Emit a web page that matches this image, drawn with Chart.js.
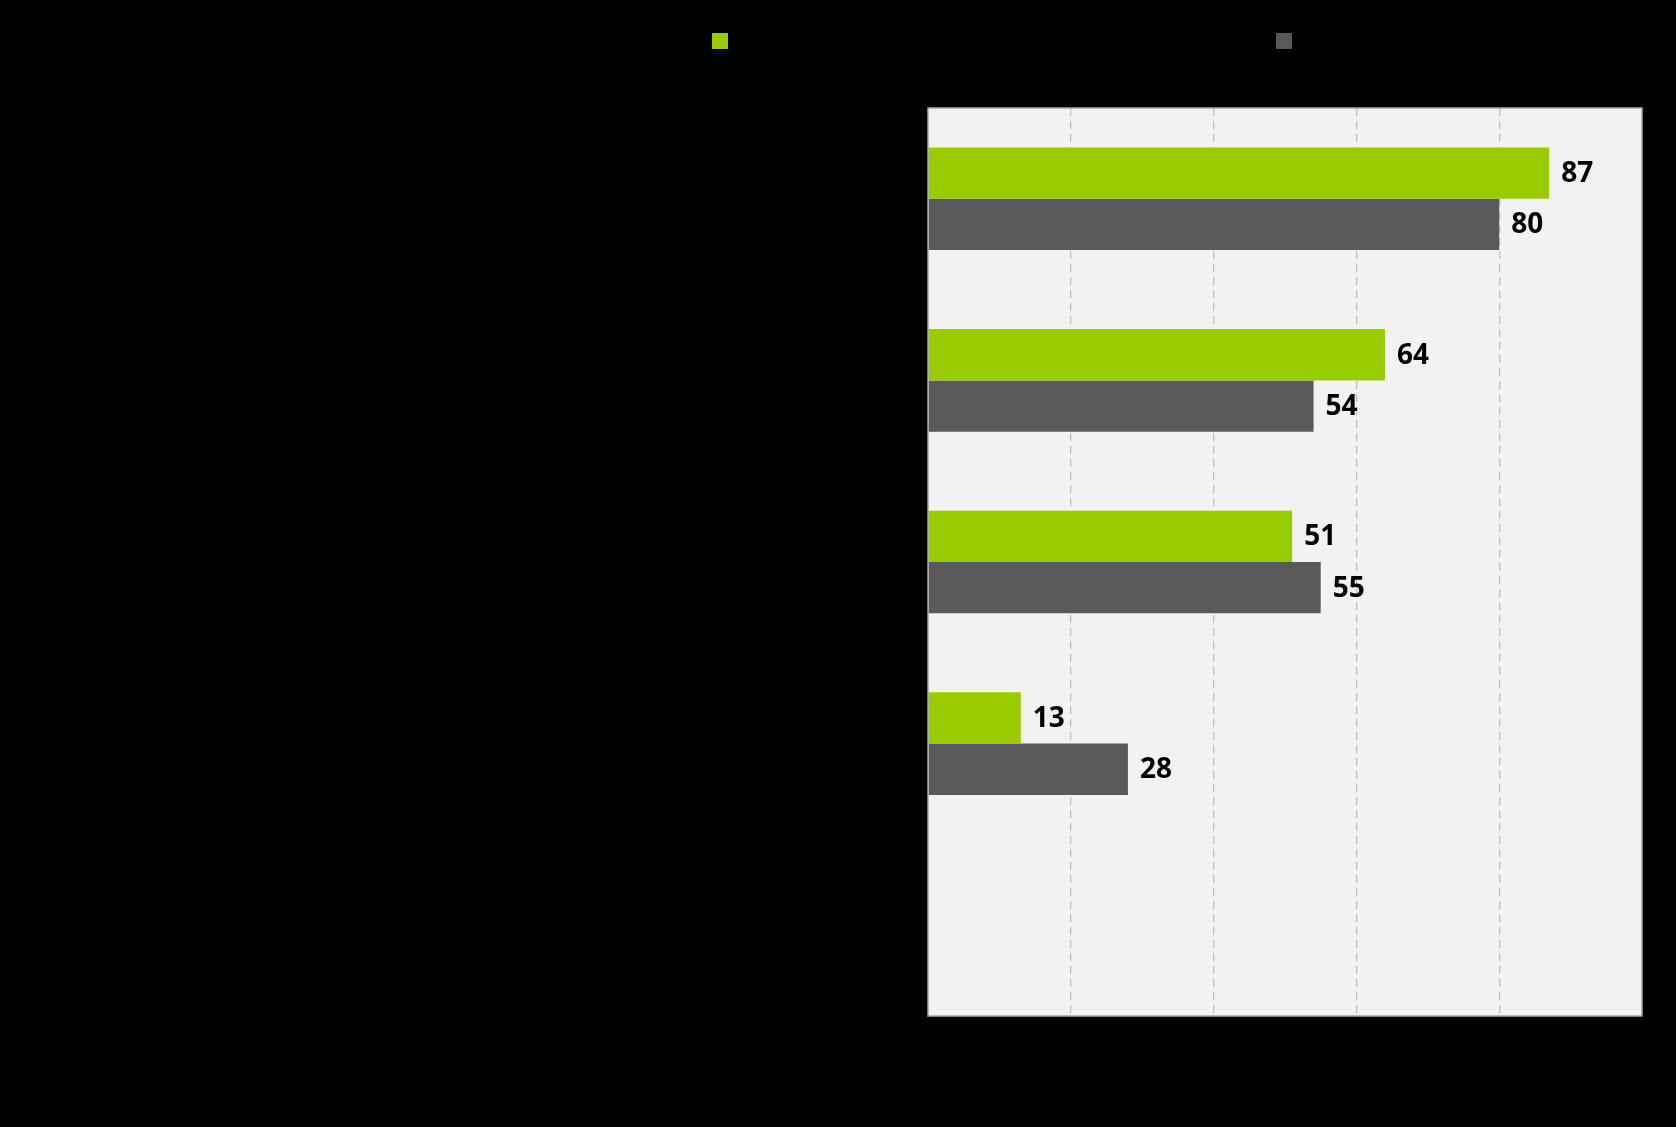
<!DOCTYPE html>
<html>
<head>
<meta charset="utf-8">
<script src="https://cdn.jsdelivr.net/npm/chart.js@4"></script>
<style>
  html, body { margin: 0; padding: 0; background: #000; }
  #wrap { width: 1676px; height: 1127px; position: relative; }
</style>
</head>
<body>
<div id="wrap"><canvas id="chart" width="1676" height="1127"></canvas></div>
<script>
// ── Data ──
const categories = [
  'Ilman kunnon koulutusta on vaikea pärjätä',
  'Uskon, että pääsen opiskelemaan juuri sinne minne haluan',
  'Opiskelun ajatteleminen stressaa minua',
  'Haluan selvitä opiskeluistani mahdollisimman helpolla',
  ''
];
const seriesNames = ['Åbo Akademista kiinnostuneet', 'Muut lukiolaiset'];
const aboValues = [87, 64, 51, 13, null];
const muutValues = [80, 54, 55, 28, null];
const xTicks = [0, 20, 40, 60, 80, 100];
const xTitle = '% samaa mieltä';

const COLORS = ['#99cc00', '#595959'];
const FONT = "'Open Sans', sans-serif";

// ── Plot background + border ──
const plotBg = {
  id: 'plotBg',
  beforeDraw(chart) {
    const { ctx, chartArea: a } = chart;
    ctx.save();
    ctx.fillStyle = '#f2f2f2';
    ctx.fillRect(a.left, a.top, a.right - a.left, a.bottom - a.top);
    ctx.restore();
  },
  afterDraw(chart) {
    const { ctx, chartArea: a } = chart;
    ctx.save();
    ctx.strokeStyle = '#a6a6a6';
    ctx.lineWidth = 1.5;
    ctx.strokeRect(a.left, a.top, a.right - a.left, a.bottom - a.top);
    ctx.restore();
  }
};

// ── Value labels at bar ends ──
const valueLabels = {
  id: 'valueLabels',
  afterDatasetsDraw(chart) {
    const { ctx } = chart;
    ctx.save();
    ctx.font = `bold 28px ${FONT}`;
    ctx.fillStyle = '#000';
    ctx.textAlign = 'left';
    ctx.textBaseline = 'middle';
    chart.data.datasets.forEach((ds, i) => {
      chart.getDatasetMeta(i).data.forEach((bar, j) => {
        const v = ds.data[j];
        if (v == null) return;
        ctx.fillText(String(v), bar.x + 12, bar.y + 1);
      });
    });
    ctx.restore();
  }
};

// ── Legend ──
const topLegend = {
  id: 'topLegend',
  afterDraw(chart) {
    const { ctx } = chart;
    const xs = [712, 1276];
    ctx.save();
    ctx.font = `23px ${FONT}`;
    ctx.textBaseline = 'middle';
    seriesNames.forEach((name, i) => {
      ctx.fillStyle = COLORS[i];
      ctx.fillRect(xs[i], 33, 16, 16);
      ctx.fillStyle = '#000';
      ctx.fillText(name, xs[i] + 22, 41);
    });
    ctx.restore();
  }
};

new Chart(document.getElementById('chart'), {
  type: 'bar',
  data: {
    labels: categories,
    datasets: [
      { label: seriesNames[0], data: aboValues, backgroundColor: COLORS[0] },
      { label: seriesNames[1], data: muutValues, backgroundColor: COLORS[1] }
    ]
  },
  options: {
    indexAxis: 'y',
    responsive: false,
    animation: false,
    events: [],
    layout: { padding: { top: 108, right: 34, bottom: 0, left: 0 } },
    datasets: { bar: { categoryPercentage: 0.565, barPercentage: 1.0 } },
    plugins: { legend: { display: false }, tooltip: { enabled: false } },
    scales: {
      x: {
        min: 0, max: 100,
        afterBuildTicks: s => { s.ticks = xTicks.map(v => ({ value: v })); },
        afterFit: s => { s.height = 111; s.paddingLeft = 0; s.paddingRight = 0; },
        grid: {
          color: ctx => (ctx.tick && (ctx.tick.value === 0 || ctx.tick.value === 100)) ? 'rgba(0,0,0,0)' : '#bfbfbf',
          lineWidth: 1.3,
          drawTicks: false
        },
        border: { display: false, dash: [8, 5] },
        ticks: { color: '#000', font: { family: FONT, size: 22 }, padding: 22 },
        title: {
          display: true, text: xTitle, color: '#000',
          font: { family: FONT, size: 22 }, padding: { top: 0, bottom: 18 }
        }
      },
      y: {
        afterFit: s => { s.width = 928; },
        grid: { display: false, drawTicks: false },
        border: { display: false },
        ticks: { color: '#000', font: { family: FONT, size: 23 }, padding: 28 }
      }
    }
  },
  plugins: [plotBg, valueLabels, topLegend]
});
</script>
</body>
</html>
